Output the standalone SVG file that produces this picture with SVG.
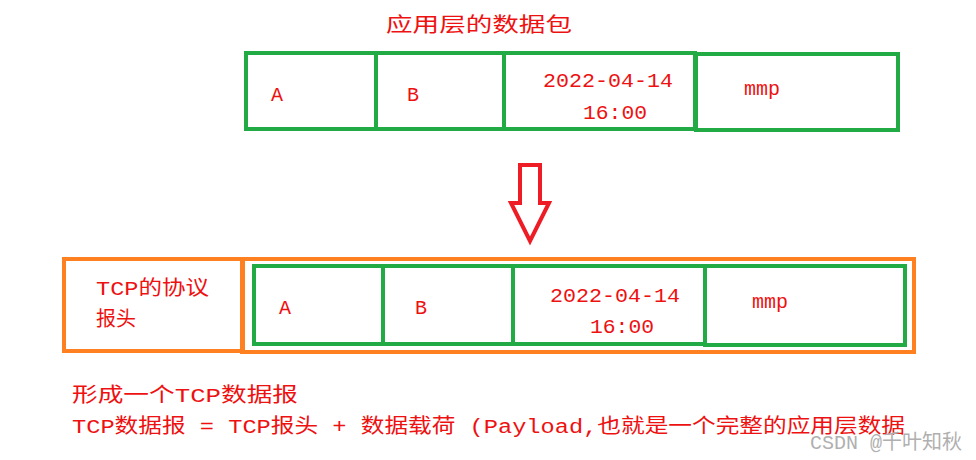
<svg xmlns="http://www.w3.org/2000/svg" width="976" height="460" viewBox="0 0 976 460">
<style>
.g{fill:none;stroke:#22aa44;stroke-width:4}
.o{fill:none;stroke:#ff8020;stroke-width:4}
text{fill:#ee1111;font-family:"Liberation Mono","Noto Sans CJK SC",monospace;font-size:20px}
</style>
<rect width="976" height="460" fill="#fff"/>
<text x="386" y="32" font-size="21" textLength="186" lengthAdjust="spacingAndGlyphs">应用层的数据包</text>
<g id="top">
<rect class="g" x="246" y="53" width="130" height="76"/>
<rect class="g" x="376" y="53" width="128" height="76"/>
<rect class="g" x="504" y="53" width="191" height="76"/>
<rect class="g" x="696" y="54" width="202" height="76"/>
<text x="271" y="101">A</text>
<text x="407" y="101">B</text>
<text x="543" y="87" textLength="130" lengthAdjust="spacingAndGlyphs">2022-04-14</text>
<text x="583" y="119" textLength="64" lengthAdjust="spacingAndGlyphs">16:00</text>
<text x="744" y="95">mmp</text>
</g>
<g id="connectors">
<path d="M520,165 H540 V203 H549 L530,241 L511,203 H520 Z" fill="none" stroke="#ee1c25" stroke-width="4"/>
</g>
<g id="header">
<rect class="o" x="64" y="259" width="179" height="92"/>
<text x="96" y="295" textLength="113" lengthAdjust="spacingAndGlyphs">TCP的协议</text>
<text x="96" y="326">报头</text>
</g>
<g id="bottom">
<rect class="o" x="242" y="259" width="672" height="93"/>
<rect class="g" x="254" y="266" width="129" height="78"/>
<rect class="g" x="383" y="266" width="130" height="78"/>
<rect class="g" x="513" y="266" width="192" height="78"/>
<rect class="g" x="705" y="266" width="200" height="79"/>
<text x="279" y="314">A</text>
<text x="415" y="314">B</text>
<text x="550" y="302" textLength="130" lengthAdjust="spacingAndGlyphs">2022-04-14</text>
<text x="590" y="333" textLength="64" lengthAdjust="spacingAndGlyphs">16:00</text>
<text x="752" y="308">mmp</text>
</g>
<text x="72" y="402" textLength="226" lengthAdjust="spacingAndGlyphs">形成一个TCP数据报</text>
<text x="72" y="433" textLength="833" lengthAdjust="spacingAndGlyphs">TCP数据报 = TCP报头 + 数据载荷 (Payload,也就是一个完整的应用层数据</text>
<text x="810" y="449" font-family="Liberation Sans,Noto Sans CJK SC,sans-serif" font-size="16" style="fill:#b0b0b0">CSDN @千叶知秋</text>
</svg>
